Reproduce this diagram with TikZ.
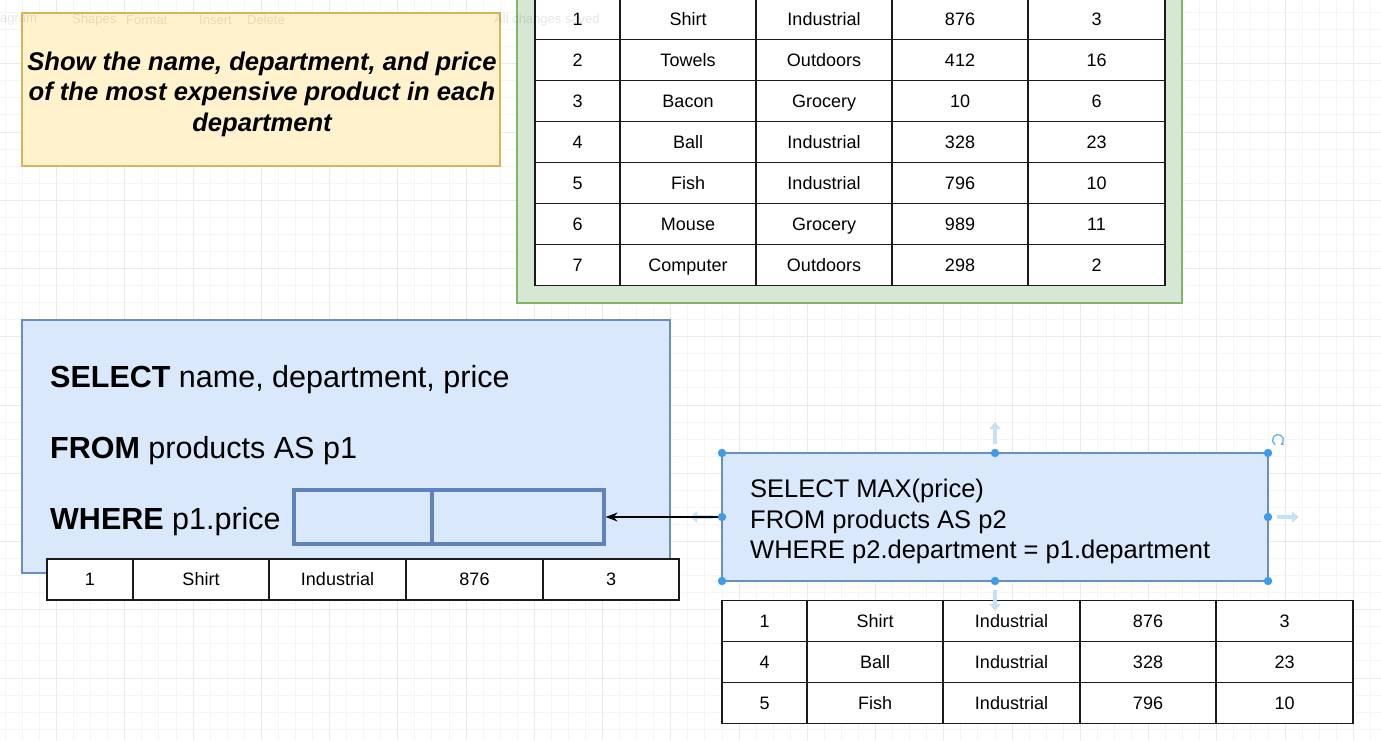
\documentclass[tikz,border=0pt]{standalone}
\usepackage{fontspec}
\setmainfont{Liberation Sans}
\usetikzlibrary{arrows.meta}
\definecolor{yelfill}{HTML}{FFF2CC}
\definecolor{yelline}{HTML}{D6B656}
\definecolor{grnfill}{HTML}{D5E8D4}
\definecolor{grnline}{HTML}{82B366}
\definecolor{blufill}{HTML}{DAE8FC}
\definecolor{bluline}{HTML}{6C8EBF}
\definecolor{inbox}{HTML}{5F82BA}
\definecolor{handle}{HTML}{3D9BE9}
\definecolor{gridminor}{HTML}{F5F5F5}
\definecolor{gridmajor}{HTML}{EAEAEA}
\definecolor{tblline}{HTML}{1A1A1A}
\newcommand{\tabfont}{\fontsize{18}{21.6}\selectfont}
\newcommand{\bigfont}{\fontsize{30.5}{36.6}\selectfont}
\newcommand{\subfont}{\fontsize{25.5}{30.6}\selectfont}
\newcommand{\taskfont}{\fontsize{25.6}{30.7}\selectfont\bfseries\itshape}
\begin{document}
\begin{tikzpicture}[x=1pt,y=-1pt,
  cell/.style={draw=tblline, fill=white, line width=1.6pt, inner sep=0pt,
    minimum height=41pt, text height=12.9pt, text depth=0pt, font=\tabfont},
  bigline/.style={anchor=west, inner sep=0pt, text height=21.8pt, text depth=0pt, font=\bigfont},
  subline/.style={anchor=west, inner sep=0pt, text height=18.3pt, text depth=0pt, font=\subfont},
  taskline/.style={anchor=center, inner sep=0pt, text height=18.3pt, text depth=0pt, font=\taskfont},
  tool/.style={anchor=west, inner sep=0pt, text=black, text opacity=0.1, font=\fontsize{13}{15}\selectfont},
  hint/.style={line width=3.5pt, draw=handle!30, -{Triangle[length=7pt,width=11pt]}},
  handledot/.style={fill=handle},
  region/.style={inner sep=0pt, line width=1.6pt}]
\useasboundingbox (0,0) rectangle (1381,740);
\begin{scope}
\clip (0,0) rectangle (1381,740);
\fill[white] (0,0) rectangle (1381,740);
% grid
\foreach \i in {0,...,81} {\draw[gridminor, line width=1pt] ({5.4+17.0625*\i},0) -- ++(0,740);}
\foreach \j in {0,...,43} {\draw[gridminor, line width=1pt] (0,{12.6+17.0625*\j}) -- ++(1381,0);}
\foreach \i in {0,...,21} {\draw[gridmajor, line width=1pt] ({-11.65+68.25*\i},0) -- ++(0,740);}
\foreach \j in {0,...,11} {\draw[gridmajor, line width=1pt] (0,{-4.45+68.25*\j}) -- ++(1381,0);}

% task box
\node[region, draw=yelline, fill=yelfill, minimum width=478pt, minimum height=153pt] (task) at (261,89.5) {};
\node[taskline] (task1) at (262,61) {Show the name, department, and price};
\node[taskline] (task2) at (262,91.5) {of the most expensive product in each};
\node[taskline] (task3) at (262,122) {department};

% green products box
\node[region, draw=grnline, fill=grnfill, line width=2pt, minimum width=665pt, minimum height=343pt] (prod) at (849.5,131.5) {};
\foreach \rr/\va/\vb/\vcc/\vd/\ve in {1/1/Shirt/Industrial/876/3, 2/2/Towels/Outdoors/412/16, 3/3/Bacon/Grocery/10/6, 4/4/Ball/Industrial/328/23, 5/5/Fish/Industrial/796/10, 6/6/Mouse/Grocery/989/11, 7/7/Computer/Outdoors/298/2}{
  \pgfmathsetmacro\yc{19+41*(\rr-1)}
  \node[cell, minimum width=85pt] (g\rr-1) at (577.5,\yc) {\va};
  \node[cell, minimum width=136pt] (g\rr-2) at (688,\yc) {\vb};
  \node[cell, minimum width=136pt] (g\rr-3) at (824,\yc) {\vcc};
  \node[cell, minimum width=136pt] (g\rr-4) at (960,\yc) {\vd};
  \node[cell, minimum width=137pt] (g\rr-5) at (1096.5,\yc) {\ve};
}

% main query box
\node[region, draw=bluline, fill=blufill, minimum width=648pt, minimum height=253pt] (main) at (346,446.5) {};
\node[bigline] (sel) at (50,377) {\textbf{SELECT} name, department, price};
\node[bigline] (frm) at (50,448) {\textbf{FROM} products AS p1};
\node[bigline] (whr) at (50,519) {\textbf{WHERE} p1.price};
\node[region, draw=inbox, fill=blufill, line width=3.2pt, minimum width=138pt, minimum height=54pt] (slot1) at (363,517) {};
\node[region, draw=inbox, fill=blufill, line width=3.2pt, minimum width=172pt, minimum height=54pt] (slot2) at (518,517) {};

% current outer row
\node[cell, minimum width=86pt] (o-1) at (90,579.5) {1};
\node[cell, minimum width=136pt] (o-2) at (201,579.5) {Shirt};
\node[cell, minimum width=137pt] (o-3) at (337.5,579.5) {Industrial};
\node[cell, minimum width=137pt] (o-4) at (474.5,579.5) {876};
\node[cell, minimum width=136pt] (o-5) at (611,579.5) {3};

% subquery box
\node[region, draw=bluline, fill=blufill, minimum width=546pt, minimum height=128pt] (sub) at (995,517) {};
\node[subline] (s1) at (750,488) {SELECT MAX(price)};
\node[subline] (s2) at (750,519) {FROM products AS p2};
\node[subline] (s3) at (750,549) {WHERE p2.department = p1.department};

% faint hover arrows
\coordinate (hu0) at (995,444); \coordinate (hu1) at (995,422);
\coordinate (hr0) at (1277,517); \coordinate (hr1) at (1299,517);
\coordinate (hl0) at (713,517); \coordinate (hl1) at (690,517);
\draw[hint] (hu0) -- (hu1);
\draw[hint] (hr0) -- (hr1);
\draw[hint] (hl0) -- (hl1);

% subquery result rows
\foreach \rr/\va/\vb/\vcc/\vd/\ve in {1/1/Shirt/Industrial/876/3, 2/4/Ball/Industrial/328/23, 3/5/Fish/Industrial/796/10}{
  \pgfmathsetmacro\yc{621+41*(\rr-1)}
  \node[cell, minimum width=85pt] (r\rr-1) at (764.5,\yc) {\va};
  \node[cell, minimum width=136pt] (r\rr-2) at (875,\yc) {\vb};
  \node[cell, minimum width=137pt] (r\rr-3) at (1011.5,\yc) {\vcc};
  \node[cell, minimum width=136pt] (r\rr-4) at (1148,\yc) {\vd};
  \node[cell, minimum width=137pt] (r\rr-5) at (1284.5,\yc) {\ve};
}
\coordinate (hd0) at (995,590); \coordinate (hd1) at (995,611);
\draw[hint] (hd0) -- (hd1);

% connector
\draw[line width=1.3pt, -{Stealth[length=12pt,width=9pt]}] (sub.west) -- (slot2.east);

% selection handles
\foreach \hx/\hy in {722/453, 995/453, 1268/453, 722/517, 1268/517, 722/581, 995/581, 1268/581}{
  \fill[handledot] (\hx,\hy) circle (4.2pt);
}
\draw[handle!80, line width=1.3pt, -{Stealth[length=3pt,width=4pt]}] (1278,440) ++(120:5.5) arc[start angle=120, end angle=420, radius=5.5];

% faint toolbar overlay (on top of everything)
\node[tool] (tb1) at (0,20) {agram};
\node[tool] (tb2) at (72,20) {Shapes};
\node[tool] (tb3) at (126,20) {Format};
\node[tool] (tb4) at (199,20) {Insert};
\node[tool] (tb5) at (247,20) {Delete};
\node[tool] (tb6) at (494,20) {All changes saved};
\end{scope}
\end{tikzpicture}
\end{document}
